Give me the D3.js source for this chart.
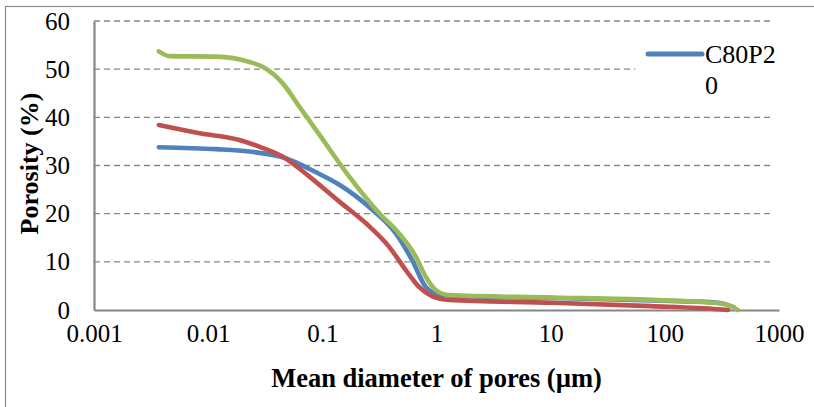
<!DOCTYPE html>
<html>
<head>
<meta charset="utf-8">
<script src="https://cdn.jsdelivr.net/npm/d3@7"></script>
<style>
  body { margin: 0; background: #fff; }
</style>
</head>
<body>
<div id="chart"></div>
<script>
var svgWidth = 814;
var svgHeight = 407;

var margin = { top: 21, right: 35, bottom: 97, left: 94 };
var width = svgWidth - margin.left - margin.right;
var height = svgHeight - margin.top - margin.bottom;

var serif = "'Liberation Serif'";

// pore diameter (um) vs porosity (%)
var blueDiam = [0.0037, 0.0118, 0.023, 0.045, 0.088, 0.141, 0.274, 0.44, 0.61, 0.805, 1.05, 1.5, 10.2, 76, 295, 400];
var bluePoro = [33.8, 33.4, 32.9, 31.7, 28.6, 26.0, 20.8, 15.9, 10.4, 4.8, 3.2, 2.9, 2.5, 2.0, 1.5, 0.6];

var redDiam = [0.0037, 0.0084, 0.0188, 0.028, 0.045, 0.077, 0.141, 0.241, 0.385, 0.538, 0.703, 0.91, 1.29, 10.2, 76, 295, 357];
var redPoro = [38.4, 36.7, 35.3, 33.9, 31.8, 27.7, 22.5, 18.0, 13.1, 8.3, 4.8, 2.9, 2.1, 1.5, 0.8, 0.15, 0];

var greenDiam = [0.0037, 0.0046, 0.0118, 0.023, 0.03, 0.0448, 0.063, 0.088, 0.172, 0.315, 0.47, 0.658, 0.805, 0.984, 1.29, 10.2, 76, 295, 357, 437];
var greenPoro = [53.7, 52.7, 52.6, 51.5, 50.5, 47.1, 42.2, 37.4, 27.7, 20.1, 15.9, 11.1, 6.9, 4.15, 3.1, 2.6, 2.1, 1.4, 1.0, 0];

var xTicks = [0.001, 0.01, 0.1, 1, 10, 100, 1000];
var yTicks = [0, 10, 20, 30, 40, 50, 60];
var legendName = "C80P20";

var series = [
  { diam: blueDiam, poro: bluePoro, color: "#4F81BD" },
  { diam: redDiam, poro: redPoro, color: "#C0504D" },
  { diam: greenDiam, poro: greenPoro, color: "#9BBB59" }
];

var svg = d3.select("#chart")
  .append("svg")
  .attr("width", svgWidth)
  .attr("height", svgHeight);

// outer chart border
svg.append("rect")
  .attr("x", 5.5)
  .attr("y", 6.5)
  .attr("width", 812)
  .attr("height", 410)
  .attr("fill", "none")
  .attr("stroke", "#8c8c8c")
  .attr("stroke-width", 1.2);

var chartGroup = svg.append("g")
  .attr("transform", `translate(${margin.left}, ${margin.top})`);

var xLogScale = d3.scaleLog()
  .domain([0.001, 1000])
  .range([0, width]);

var yLinearScale = d3.scaleLinear()
  .domain([0, 60])
  .range([height, 0]);

// dashed gridlines
chartGroup.selectAll(".grid")
  .data(yTicks.filter(d => d > 0))
  .enter()
  .append("line")
  .attr("class", "grid")
  .attr("x1", 0)
  .attr("x2", width - 6)
  .attr("y1", d => yLinearScale(d))
  .attr("y2", d => yLinearScale(d))
  .attr("stroke", "#868686")
  .attr("stroke-width", 1.3)
  .attr("stroke-dasharray", "6,4");

// legend sits on a white box over the gridlines
chartGroup.append("rect")
  .attr("x", 541)
  .attr("y", 6)
  .attr("width", 190)
  .attr("height", 86)
  .attr("fill", "#fff");

// axes
var bottomAxis = d3.axisBottom(xLogScale).tickValues(xTicks).tickSize(0).tickPadding(14)
  .tickFormat(d => String(d));
var leftAxis = d3.axisLeft(yLinearScale).tickValues(yTicks).tickSize(0).tickPadding(24);

var xAxisG = chartGroup.append("g")
  .attr("transform", `translate(0, ${height})`)
  .call(bottomAxis);

var yAxisG = chartGroup.append("g")
  .call(leftAxis);

[xAxisG, yAxisG].forEach(g => {
  g.attr("font-family", null).attr("font-size", null);
  g.select(".domain").attr("stroke", "#868686").attr("stroke-width", 2.2);
  g.selectAll("text")
    .attr("style", `font-family:${serif};font-size:25px`)
    .attr("fill", "#000");
});

// lines
var line = d3.line()
  .x(d => d[0])
  .y(d => d[1])
  .curve(d3.curveMonotoneX);

series.forEach(s => {
  var pts = s.diam.map((d, i) => [xLogScale(d), yLinearScale(s.poro[i])]);
  chartGroup.append("path")
    .datum(pts)
    .attr("d", line)
    .attr("fill", "none")
    .attr("stroke", s.color)
    .attr("stroke-width", 4.6)
    .attr("stroke-linecap", "round")
    .attr("stroke-linejoin", "round");
});

// legend
chartGroup.append("line")
  .attr("x1", 554)
  .attr("x2", 608)
  .attr("y1", 33)
  .attr("y2", 33)
  .attr("stroke", series[0].color)
  .attr("stroke-width", 5)
  .attr("stroke-linecap", "round");

var legendText = chartGroup.append("text")
  .attr("x", 611)
  .attr("y", 42)
  .attr("style", `font-family:${serif};font-size:26px`);
legendText.append("tspan").attr("x", 611).text(legendName.slice(0, 5));
legendText.append("tspan").attr("x", 611).attr("dy", 31).text(legendName.slice(5));

// axis titles
chartGroup.append("text")
  .attr("transform", "rotate(-90)")
  .attr("x", -(height / 2) + 2)
  .attr("y", -56)
  .attr("text-anchor", "middle")
  .attr("style", `font-family:${serif};font-size:26px;font-weight:bold`)
  .text("Porosity (%)");

chartGroup.append("text")
  .attr("x", width / 2)
  .attr("y", height + 77)
  .attr("text-anchor", "middle")
  .attr("style", `font-family:${serif};font-size:26.5px;font-weight:bold`)
  .text("Mean diameter of pores (µm)");
</script>
</body>
</html>
